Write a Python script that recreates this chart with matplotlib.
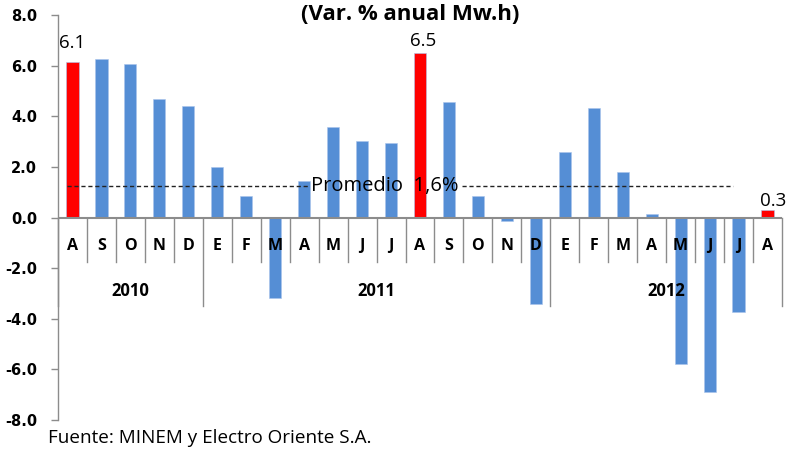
import matplotlib
matplotlib.use("Agg")
import matplotlib.pyplot as plt
import numpy as np

months = ["A", "S", "O", "N", "D", "E", "F", "M", "A", "M", "J", "J",
          "A", "S", "O", "N", "D", "E", "F", "M", "A", "M", "J", "J", "A"]
values = [6.15, 6.25, 6.06, 4.70, 4.39, 1.99, 0.83, -3.18, 1.44, 3.59, 3.04, 2.93,
          6.51, 4.58, 0.83, -0.13, -3.40, 2.60, 4.32, 1.80, 0.12, -5.79, -6.89, -3.75, 0.30]
highlight = [0, 12, 24]
bar_labels = {0: "6.1", 12: "6.5", 24: "0.3"}
years = ["2010", "2011", "2012"]
year_counts = [5, 12, 8]
promedio = 1.25
promedio_label = "Promedio  1,6%"
title = "(Var. % anual Mw.h)"
source = "Fuente: MINEM y Electro Oriente S.A."

BLUE = "#558ED5"
RED = "#FF0000"
GRAY = "#8C8C8C"
FONT = "Open Sans"

fig = plt.figure(figsize=(7.86, 4.49), dpi=100)
ax = fig.add_axes([58/786, 1 - 420/449, 724/786, 405/449])

x = np.arange(len(values))
colors = [RED if i in highlight else BLUE for i in x]
ax.bar(x, values, width=0.42, color=colors, edgecolor="#A9C4EB", linewidth=0.4, zorder=3)

ax.set_xlim(-0.5, len(values) - 0.5)
ax.set_ylim(-8, 8)
yt = np.arange(-8, 8.1, 2)
ax.set_yticks(yt)
ax.set_yticklabels([f"{v:.1f}" for v in yt],
                   fontfamily="DejaVu Sans", fontweight="bold", fontsize=10.5)
ax.tick_params(axis="y", direction="out", length=5, color=GRAY, width=1, pad=10)
ax.set_xticks([])
for s in ["top", "right", "bottom"]:
    ax.spines[s].set_visible(False)
ax.spines["left"].set_color(GRAY)
ax.spines["left"].set_linewidth(1.0)

# x axis line at zero
ax.axhline(0, color=GRAY, lw=1.5, zorder=4)

# category separators
bounds = np.cumsum(year_counts)
year_bounds = set([0] + list(bounds))
for b in range(len(values) + 1):
    xb = b - 0.5
    y_end = -3.5 if b in year_bounds else -1.75
    ax.plot([xb, xb], [0, y_end], color=GRAY, lw=1.0, zorder=4, clip_on=False)

# month labels
for i, m in enumerate(months):
    ax.text(i, -1.13, m, ha="center", va="center", fontfamily=FONT,
            fontweight="bold", fontsize=11.5, zorder=5)

# year labels
start = 0
for yname, c in zip(years, year_counts):
    ax.text(start + (c - 1) / 2, -2.9, yname, ha="center", va="center",
            fontfamily=FONT, fontweight="bold", fontsize=12, zorder=5)
    start += c

# bar value labels (offsets as placed in the original)
label_offsets = {0: (0.0, 0.53), 12: (0.12, 0.27), 24: (0.2, 0.15)}
for i, lab in bar_labels.items():
    dx, dy = label_offsets[i]
    ax.text(i + dx, values[i] + dy, lab, ha="center", va="baseline",
            fontfamily=FONT, fontsize=13.5, zorder=5, clip_on=False)

# average line (with gap for text)
ax.plot([-0.19, 8.2], [promedio, promedio], ls=(0, (3, 2)), color="#222222", lw=1.0, zorder=4)
ax.plot([13.45, 22.8], [promedio, promedio], ls=(0, (3, 2)), color="#222222", lw=1.0, zorder=4)
ax.text(8.22, promedio, promedio_label, ha="left", va="center",
        fontfamily=FONT, fontsize=14.5, zorder=5)

fig.text(410/786, 1 - 14/449, title, ha="center", va="center",
         fontfamily=FONT, fontweight="bold", fontsize=16)
fig.text(48/786, 1 - 438/449, source, ha="left", va="center",
         fontfamily=FONT, fontsize=13.6)

fig.savefig("out.png", dpi=100)
